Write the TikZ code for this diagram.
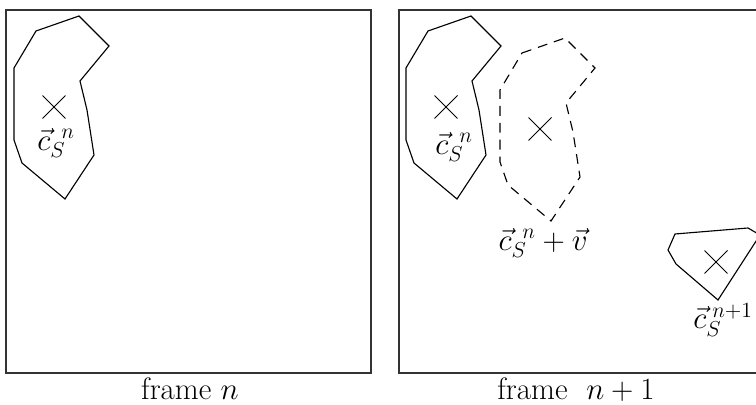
\RequirePackage{fix-cm}
\documentclass[tikz,border=0pt]{standalone}
\usetikzlibrary{shapes.misc,positioning}

% outline of the segment, in pixel units
\newcommand{\segpath}{(36,31) -- (79,16) -- (109,46) -- (80,81) -- (87,110) -- (94,155) -- (65,199) -- (22,163) -- (14,140) -- (14,68) -- cycle}
% centre vector with shifted exponent
\newcommand{\cvec}[1]{\vec{c}_S^{\mkern9mu #1}}

\begin{document}
\begin{tikzpicture}[x=0.025cm,y=-0.025cm,font=\fontsize{22}{26}\selectfont,
  frame/.style={draw=black!80,line width=1pt},
  seg/.style={draw,line width=0.8pt,line join=miter},
  moved/.style={seg,dash pattern=on 7pt off 5pt},
  centre/.style={draw,cross out,line width=0.7pt,minimum size=0.55cm,inner sep=0pt},
  lbl/.style={inner sep=1pt},
  caption/.style={inner sep=0pt,anchor=base}]
\useasboundingbox (0,0) rectangle (756,405);
% frame n
\draw[frame] (6,10) rectangle (371,373);
\draw[seg] \segpath;
\node[centre] (c1) at (54,107) {};
\node[lbl] (l1) at (56,143) {$\cvec{n}$};
\node[caption] (f1) at (190,400) {frame $n$};
% frame n+1
\draw[frame] (399,10) rectangle (764,373);
\begin{scope}[shift={(392,0)}]
  \draw[seg] \segpath;
\end{scope}
\node[centre] (c2) at (446,107) {};
\node[lbl] (l2) at (454,147) {$\cvec{n}$};
% predicted position
\begin{scope}[shift={(486,22)}]
  \draw[moved] \segpath;
\end{scope}
\node[centre] (c3) at (540,129) {};
\node[lbl] (l3) at (543,243) {$\cvec{n}+\vec{v}$};
% segment found in frame n+1
\draw[seg] (675,234) -- (748,228) -- (760,235) -- (718,300) -- (676,264) -- (668,250) -- cycle;
\node[centre] (c4) at (716,262) {};
\node[inner sep=0pt] (l4) at (723,320) {$\vec{c}_S^{\mkern5mu n+1}$};
\node[caption] (f2) at (576,400) {frame \ $n+1$};
\end{tikzpicture}
\end{document}
